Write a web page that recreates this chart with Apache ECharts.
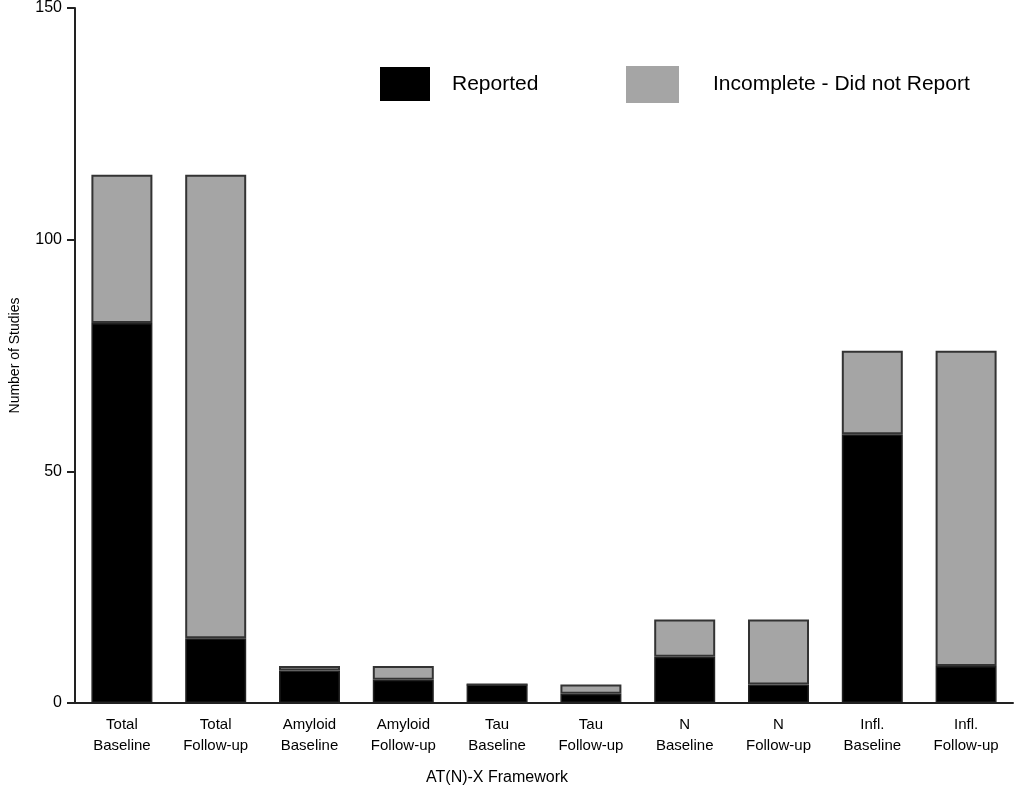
<!DOCTYPE html>
<html>
<head>
<meta charset="utf-8">
<script src="https://cdn.jsdelivr.net/npm/echarts@6/dist/echarts.min.js"></script>
<style>html,body{margin:0;padding:0;background:#fff;}#c{width:1014px;height:794px;}</style>
</head>
<body>
<div id="c"></div>
<script>
const categories = ['Total\nBaseline','Total\nFollow-up','Amyloid\nBaseline','Amyloid\nFollow-up','Tau\nBaseline','Tau\nFollow-up','N\nBaseline','N\nFollow-up','Infl.\nBaseline','Infl.\nFollow-up'];
const reported = [82, 14, 7, 5, 4, 2, 10, 4, 58, 8];
const incomplete = [32, 100, 1, 3, 0, 2, 8, 14, 18, 68];
const yTicks = [0, 50, 100, 150];

const chart = echarts.init(document.getElementById('c'), null, {renderer: 'canvas'});
const font = 'Liberation Sans, Arial, sans-serif';
chart.setOption({
  animation: false,
  backgroundColor: '#fff',
  textStyle: {fontFamily: font, color: '#000'},
  grid: {left: 75, right: 1, top: 7, bottom: 91, containLabel: false},
  legend: [
    {left: 380, top: 67, padding: 0, itemWidth: 50, itemHeight: 34, icon: 'rect', data: ['Reported'],
     textStyle: {fontSize: 21, fontFamily: font, color: '#000', padding: [0,0,0,17]}, itemStyle: {borderWidth: 0}},
    {left: 626, top: 66, padding: 0, itemWidth: 53, itemHeight: 37, icon: 'rect', data: ['Incomplete - Did not Report'],
     textStyle: {fontSize: 21, fontFamily: font, color: '#000', padding: [-6,0,0,29]}, itemStyle: {borderWidth: 0}}
  ],
  xAxis: {
    type: 'category', data: categories,
    name: 'AT(N)-X Framework', nameLocation: 'middle', nameGap: 67,
    nameTextStyle: {fontSize: 16, fontFamily: font, color: '#000', padding: [0, 94, 0, 0]},
    axisLine: {lineStyle: {color: '#222', width: 2}},
    axisTick: {alignWithLabel: true, length: 8, lineStyle: {color: '#222', width: 2}},
    axisLabel: {fontSize: 15, lineHeight: 21, margin: 11, color: '#000', fontFamily: font, interval: 0}
  },
  yAxis: {
    type: 'value', min: 0, max: 150, interval: 50,
    name: 'Number of Studies', nameLocation: 'middle', nameGap: 53, nameRotate: 90,
    nameTextStyle: {fontSize: 14, fontFamily: font, color: '#000'},
    axisLine: {show: true, lineStyle: {color: '#222', width: 2}},
    axisTick: {show: true, length: 8, lineStyle: {color: '#222', width: 2}},
    axisLabel: {fontSize: 16, margin: 13, color: '#000', fontFamily: font,
      formatter: v => yTicks.includes(v) ? String(v) : ''},
    splitLine: {show: false}
  },
  series: [
    {name: 'Reported', type: 'bar', stack: 's', barWidth: 61, data: reported,
     itemStyle: {color: '#000', borderColor: '#222', borderWidth: 1.5}},
    {name: 'Incomplete - Did not Report', type: 'bar', stack: 's', barWidth: 61, data: incomplete,
     itemStyle: {color: '#a5a5a5', borderColor: '#333', borderWidth: 2}}
  ]
});
</script>
</body>
</html>
